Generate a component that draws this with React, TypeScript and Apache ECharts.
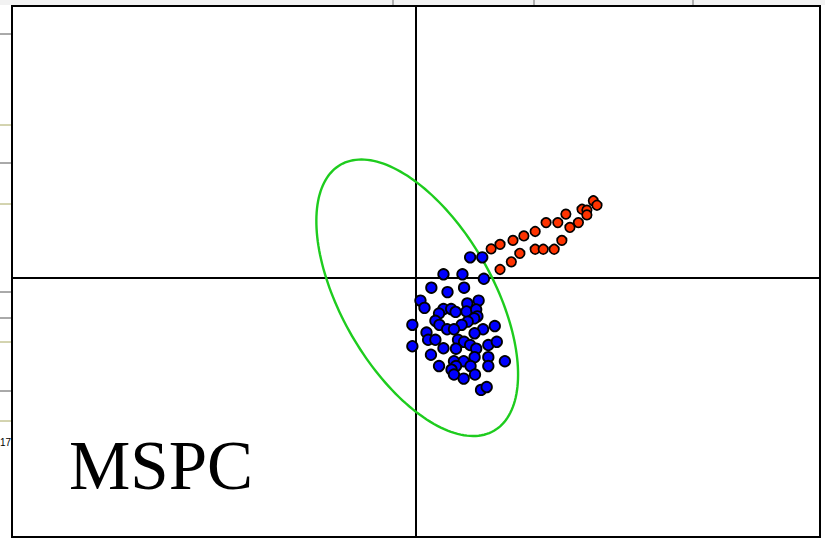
import React, { useEffect, useRef } from "react";
import * as echarts from "echarts";

// In-control samples (blue) – score coordinates
const blueX = [1.34, 1.64, 0.68, 1.15, 1.68, 0.38, 0.78, 1.19, 0.11, 0.21, 1.27, 1.55, 0.68, 0.87, 0.98, 1.25, 1.49, 0.57, 0.48, 1.52, 1.44, 1.28, 1.13, 0.58, -0.09, 0.77, 0.94, 1.66, 1.95, 1.45, 0.26, 0.30, 0.48, 1.04, 1.19, 1.34, 1.49, 1.79, 2.00, -0.09, 0.68, 0.99, 0.37, 1.45, 1.79, 0.94, 1.18, 0.57, 0.99, 1.35, 1.79, 2.20, 0.88, 0.94, 1.46, 1.18, 1.61, 1.75];
const blueY = [0.51, 0.51, 0.09, 0.09, -0.02, -0.24, -0.35, -0.24, -0.56, -0.74, -0.63, -0.56, -0.77, -0.77, -0.84, -0.83, -0.78, -0.88, -1.06, -0.95, -1.0, -1.08, -1.16, -1.16, -1.16, -1.27, -1.27, -1.27, -1.19, -1.37, -1.35, -1.53, -1.53, -1.53, -1.58, -1.66, -1.75, -1.66, -1.58, -1.69, -1.74, -1.75, -1.9, -1.96, -1.96, -2.06, -2.06, -2.18, -2.18, -2.18, -2.18, -2.06, -2.27, -2.39, -2.39, -2.49, -2.77, -2.7];

// Out-of-control samples (red)
const redX = [4.39, 4.48, 4.11, 4.23, 4.23, 3.71, 4.02, 3.51, 3.22, 3.81, 2.95, 2.67, 2.4, 3.61, 2.08, 1.86, 2.95, 3.15, 3.42, 2.57, 2.36, 2.08];
const redY = [1.91, 1.8, 1.7, 1.68, 1.56, 1.58, 1.37, 1.37, 1.37, 1.25, 1.15, 1.04, 0.93, 0.93, 0.83, 0.72, 0.71, 0.71, 0.71, 0.61, 0.4, 0.21];

// Control ellipse: centre x, centre y, semi-major, semi-minor, rotation (deg)
const ellipseParams = [0.03, -0.49, 3.8, 1.87, -60];

// Axis ranges
const xRange = [-10, 10];
const yRange = [-6.41, 6.73];

const label = "MSPC";

export default function App() {
  const ref = useRef<HTMLDivElement>(null);

  useEffect(() => {
    if (!ref.current) return;
    const chart = echarts.init(ref.current, undefined, { renderer: "svg" });

    const blue = blueX.map((x, i) => [x, blueY[i]]);
    const red = redX.map((x, i) => [x, redY[i]]);

    const leftArtifacts = [
      { y: 34, c: "#555" },
      { y: 125, c: "#a8a860" },
      { y: 163, c: "#555" },
      { y: 204, c: "#a8a860" },
      { y: 292, c: "#555" },
      { y: 318, c: "#555" },
      { y: 342, c: "#a8a860" },
      { y: 391, c: "#555" },
      { y: 421, c: "#a8a860" },
    ];

    chart.setOption({
      animation: false,
      backgroundColor: "#ffffff",
      grid: {
        left: 12,
        right: 5,
        top: 6,
        bottom: 2,
        show: true,
        borderColor: "#000",
        borderWidth: 2,
        backgroundColor: "#fff",
      },
      xAxis: {
        type: "value",
        min: xRange[0],
        max: xRange[1],
        axisLine: { show: true, onZero: true, lineStyle: { color: "#000", width: 2 } },
        axisTick: { show: false },
        axisLabel: { show: false },
        splitLine: { show: false },
      },
      yAxis: {
        type: "value",
        min: yRange[0],
        max: yRange[1],
        axisLine: { show: true, onZero: true, lineStyle: { color: "#000", width: 2 } },
        axisTick: { show: false },
        axisLabel: { show: false },
        splitLine: { show: false },
      },
      series: [
        {
          type: "custom",
          data: [ellipseParams],
          silent: true,
          renderItem: (params: any, api: any) => {
            const cx = api.value(0);
            const cy = api.value(1);
            const a = api.value(2);
            const b = api.value(3);
            const th = (api.value(4) * Math.PI) / 180;
            const pts: number[][] = [];
            const n = 180;
            for (let k = 0; k < n; k++) {
              const t = (2 * Math.PI * k) / n;
              const ex = a * Math.cos(t);
              const ey = b * Math.sin(t);
              const dx = cx + ex * Math.cos(th) - ey * Math.sin(th);
              const dy = cy + ex * Math.sin(th) + ey * Math.cos(th);
              pts.push(api.coord([dx, dy]));
            }
            return {
              type: "polygon",
              shape: { points: pts },
              style: { fill: "none", stroke: "#1ecc1e", lineWidth: 2.4 },
            };
          },
          z: 2,
        },
        {
          type: "scatter",
          data: blue,
          symbol: "circle",
          symbolSize: 10.5,
          itemStyle: { color: "#0000ff", borderColor: "#000", borderWidth: 1.8, opacity: 1 },
          z: 3,
        },
        {
          type: "scatter",
          data: red,
          symbol: "circle",
          symbolSize: 9.5,
          itemStyle: { color: "#ff3300", borderColor: "#000", borderWidth: 1.7, opacity: 1 },
          z: 3,
        },
      ],
      graphic: [
        {
          type: "rect",
          shape: { x: 0, y: 0, width: 825, height: 5 },
          style: { fill: "#f2f2f2" },
          silent: true,
        },
        ...[393, 534, 693].map((x) => ({
          type: "line",
          shape: { x1: x, y1: 0, x2: x, y2: 5 },
          style: { stroke: "#999", lineWidth: 1.5 },
          silent: true,
        })),
        ...leftArtifacts.map((d) => ({
          type: "line",
          shape: { x1: 0, y1: d.y, x2: 11, y2: d.y },
          style: { stroke: d.c, lineWidth: 1 },
          silent: true,
        })),
        {
          type: "text",
          x: 0,
          y: 442,
          style: {
            text: "17",
            fontSize: 10,
            fontFamily: "Liberation Sans, Arial, sans-serif",
            fill: "#000",
            verticalAlign: "middle",
            align: "left",
          },
          silent: true,
        },
        {
          type: "text",
          x: 69,
          y: 466,
          z: 10,
          style: {
            text: label,
            fontSize: 69,
            fontFamily: "Liberation Serif, Times New Roman, serif",
            fill: "#000",
            verticalAlign: "middle",
            align: "left",
          },
          silent: true,
        },
      ],
    });

    return () => chart.dispose();
  }, []);

  return (
    <div
      ref={ref}
      style={{ position: "absolute", left: 0, top: 0, width: 825, height: 539, background: "#fff" }}
    />
  );
}
